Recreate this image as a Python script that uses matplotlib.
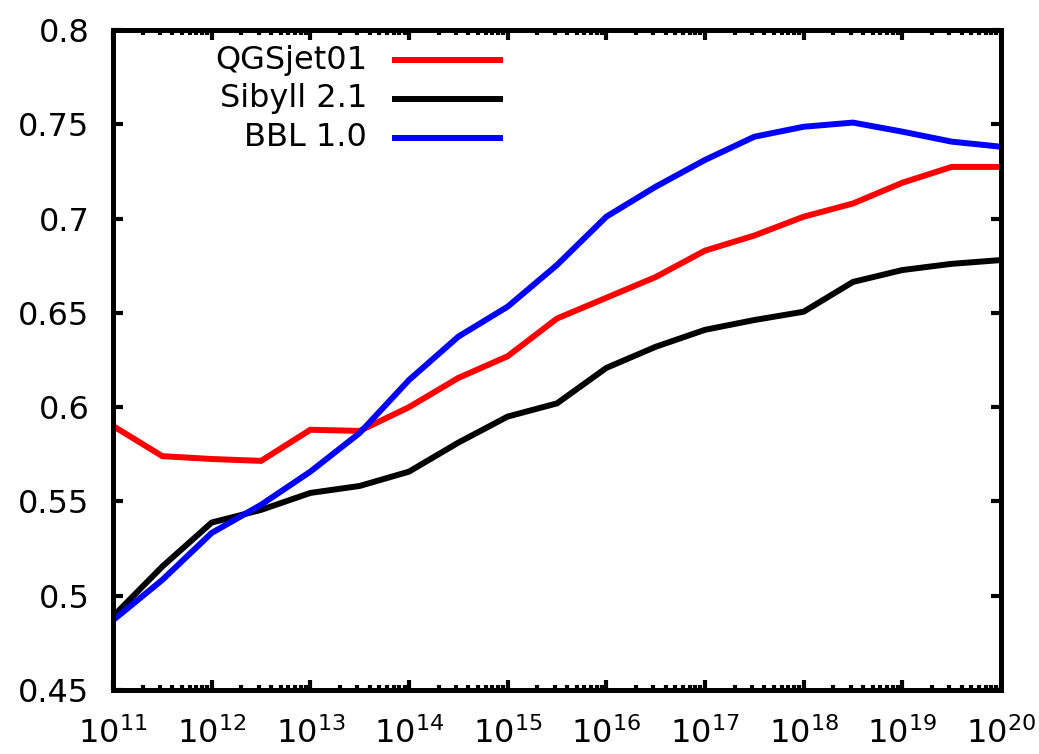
import numpy as np
import matplotlib
matplotlib.use('Agg')
import matplotlib.pyplot as plt
from matplotlib.ticker import LogLocator, FixedLocator, FuncFormatter, NullFormatter

plt.rcParams['font.family'] = 'DejaVu Sans'
plt.rcParams['mathtext.fontset'] = 'dejavusans'

# energie (log10) - puntos cada media decada
log_e = np.arange(11.0, 20.01, 0.5)

qgsjet = [0.590, 0.574, 0.5725, 0.5715, 0.588, 0.5874, 0.600, 0.6155, 0.627,
          0.647, 0.658, 0.669, 0.683, 0.691, 0.701, 0.708, 0.719, 0.7274, 0.7274]
sibyll = [0.489, 0.5155, 0.5388, 0.5455, 0.5545, 0.5582, 0.5658, 0.5812, 0.595,
          0.602, 0.6208, 0.632, 0.641, 0.6462, 0.6506, 0.6664, 0.6727, 0.676, 0.678]
bbl = [0.487, 0.5084, 0.5333, 0.5482, 0.5658, 0.5863, 0.6144, 0.6374, 0.6533,
       0.6754, 0.701, 0.7169, 0.7311, 0.7434, 0.7487, 0.7509, 0.7461, 0.7408, 0.7381]

labels = ['QGSjet01', 'Sibyll 2.1', 'BBL 1.0']
colors = ['#ff0000', '#000000', '#0000ff']
series = [qgsjet, sibyll, bbl]

y_ticks = [0.45, 0.5, 0.55, 0.6, 0.65, 0.7, 0.75, 0.8]

fig = plt.figure(figsize=(10.39, 7.54), dpi=100)
ax = fig.add_axes([0.1088, 0.0849, 0.8546, 0.8753])

energy = 10.0 ** log_e
for vals, c in zip(series, colors):
    ax.plot(energy, vals, color=c, lw=4.3, solid_joinstyle='miter')

ax.set_xscale('log')
ax.set_xlim(1e11, 1e20)
ax.set_ylim(0.45, 0.8)

ax.xaxis.set_major_locator(LogLocator(base=10, numticks=20))
ax.xaxis.set_minor_locator(LogLocator(base=10, subs=np.arange(2, 10), numticks=20))
ax.xaxis.set_minor_formatter(NullFormatter())
ax.xaxis.set_major_formatter(FuncFormatter(lambda v, p: r'$\mathregular{10^{%d}}$' % round(np.log10(v))))

ax.yaxis.set_major_locator(FixedLocator(y_ticks))
ax.yaxis.set_major_formatter(FuncFormatter(lambda v, p: '%g' % v))

ax.tick_params(which='both', direction='in', top=True, right=True, width=3)
ax.tick_params(which='major', length=7, labelsize=23)
ax.tick_params(which='minor', length=3.5)
ax.tick_params(axis='y', pad=17)
ax.tick_params(axis='x', pad=20)
for s in ax.spines.values():
    s.set_linewidth(3.6)

# leyenda estilo gnuplot: texto alineado a la derecha, linea despues
rows = [0.9545, 0.8955, 0.8364]
for lab, c, yy in zip(labels, colors, rows):
    ax.text(0.286, yy, lab, transform=ax.transAxes, ha='right', va='center', fontsize=23)
    ax.plot([0.3176, 0.4358], [yy, yy], transform=ax.transAxes, color=c, lw=4.3)

fig.savefig('out.png', dpi=100)
